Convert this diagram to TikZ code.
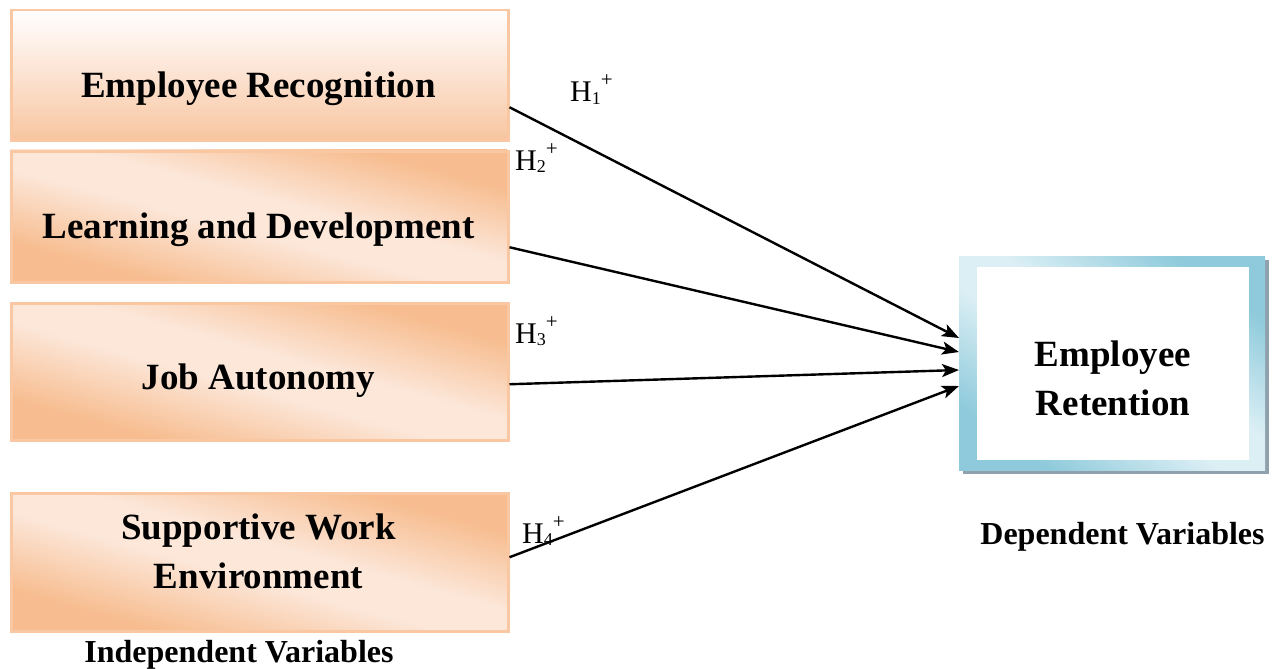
\documentclass[tikz,border=0pt]{standalone}
\usepackage{fontspec}
\setmainfont{Liberation Serif}
\usetikzlibrary{arrows.meta}

\definecolor{peachdark}{HTML}{F7BD90}
\definecolor{peachlight}{HTML}{FCE7D9}
\definecolor{peachedge}{HTML}{F9C8A2}
\definecolor{peachbottom}{HTML}{F8C6A0}
\definecolor{peachmid}{HTML}{FCE3D2}
\definecolor{bluedark}{HTML}{8ECADB}
\definecolor{bluelight}{HTML}{DCEFF5}
\definecolor{shadowgrey}{HTML}{8EA1AD}

% diagonal bands: dark corners, light middle
\pgfdeclarehorizontalshading{peachband}{100bp}{color(0bp)=(peachdark); color(25bp)=(peachdark); color(45bp)=(peachlight); color(55bp)=(peachlight); color(75bp)=(peachdark); color(100bp)=(peachdark)}
\pgfdeclarehorizontalshading{blueband}{100bp}{color(0bp)=(bluedark); color(25bp)=(bluedark); color(45bp)=(bluelight); color(55bp)=(bluelight); color(75bp)=(bluedark); color(100bp)=(bluedark)}

% #1 shading, #2 left, #3 top, #4 width, #5 height (pixels, y downwards)
\newcommand\bandfill[5]{%
  \begin{scope}[transform canvas={shift={({#2pt},{-#3pt-#5pt})}, xscale=#4, yscale=#5}]
    \shade[shading=#1, shading angle=45] (0pt,0pt) rectangle (1pt,1pt);
  \end{scope}}

\newcommand\hyplabel[1]{H\raisebox{-2pt}{\fontsize{18}{18}\selectfont #1}\raisebox{15pt}{\fontsize{21}{21}\selectfont +}}

\begin{document}
\begin{tikzpicture}[x=1pt,y=-1pt,
  ivbox/.style={draw=peachedge, line width=2.5pt, inner sep=0pt, anchor=north west, minimum width=497pt},
  boxtext/.style={font=\fontsize{37}{49}\selectfont\bfseries, inner sep=0pt, align=center, anchor=base},
  caption/.style={font=\fontsize{32}{38}\selectfont\bfseries, inner sep=0pt, anchor=base},
  hyp/.style={font=\fontsize{30}{32}\selectfont, inner sep=0pt, anchor=base west},
  link/.style={line width=2.4pt, -{Stealth[length=17pt,width=13pt,inset=4pt]}},
]
\useasboundingbox (0,0) rectangle (1278,669);

% fills of the independent-variable boxes
\shade[top color=white, bottom color=peachbottom, middle color=peachmid] (10,9) rectangle (507,139);
\bandfill{peachband}{10}{150}{497}{131}
\bandfill{peachband}{10}{302}{497}{137}
\bandfill{peachband}{10}{492}{497}{138}

% dependent-variable box: shadow, framed gradient, white panel
\fill[shadowgrey] (963,260) rectangle (1269,474);
\bandfill{blueband}{959}{256}{306}{214}
\fill[white] (977,267) rectangle (1249,460);

% box outlines
\node[ivbox, minimum height=130pt] (er) at (10,9) {};
\node[ivbox, minimum height=131pt] (ld) at (10,150) {};
\node[ivbox, minimum height=137pt] (ja) at (10,302) {};
\node[ivbox, minimum height=138pt] (sw) at (10,492) {};
\node[inner sep=0pt, outer sep=0pt, anchor=north west, minimum width=306pt, minimum height=214pt] (ret) at (959,256) {};

% texts (two-line nodes are placed by the baseline of their last line)
\node[boxtext] (ert) at (258.5,97) {Employee Recognition};
\node[boxtext] (ldt) at (258.5,238) {Learning and Development};
\node[boxtext] (jat) at (258.5,389) {Job Autonomy};
\node[boxtext] (swt) at (258.5,588) {Supportive Work\\Environment};
\node[boxtext] (rett) at (1113,415) {Employee\\Retention};
\node[caption] (indep) at (239,662) {Independent Variables};
\node[caption] (dep) at (1122.5,544) {Dependent Variables};

% hypotheses
\node[hyp] (h1) at (570,102) {\hyplabel{1}};
\node[hyp] (h2) at (515,170) {\hyplabel{2}};
\node[hyp] (h3) at (515,343) {\hyplabel{3}};
\node[hyp] (h4) at (522,543) {\hyplabel{4}};

% paths
\draw[link] ([yshift=-32pt]er.east) -- ([yshift=25pt]ret.west);
\draw[link] ([yshift=-30.5pt]ld.east) -- ([yshift=11pt]ret.west);
\draw[link] ([yshift=-12.5pt]ja.east) -- ([yshift=-7pt]ret.west);
\draw[link] ([yshift=5pt]sw.east) -- ([yshift=-23pt]ret.west);
\end{tikzpicture}
\end{document}
